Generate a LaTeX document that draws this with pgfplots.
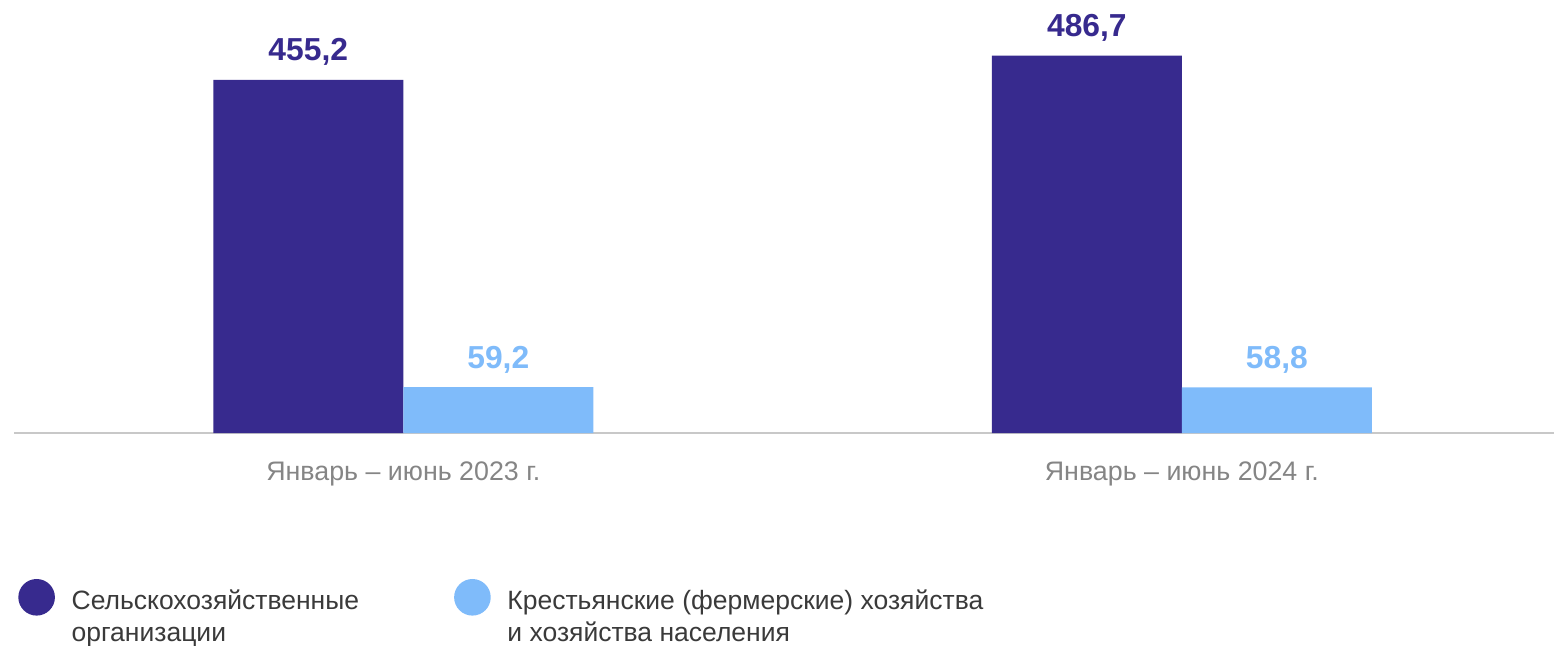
\documentclass[border=0pt]{standalone}
\usepackage{fontspec}
\setmainfont{Liberation Sans}
\usepackage{pgfplots}
\pgfplotsset{compat=1.18}
\definecolor{cDark}{HTML}{372A8E}
\definecolor{cLight}{HTML}{7FBBFA}
\definecolor{cAxis}{HTML}{C8C8C8}
\definecolor{cLab}{HTML}{858585}
\definecolor{cLeg}{HTML}{3A3A3A}

\begin{document}
\begin{tikzpicture}[x=1pt,y=1pt]
\useasboundingbox (0,0) rectangle (1554,645);
\begin{axis}[
  at={(14pt,212pt)}, anchor=south west,
  width=1540pt, height=418.8pt, scale only axis,
  xmin=-0.5, xmax=1.478, ymin=0, ymax=540,
  ybar=0pt, bar width=190pt,
  axis x line=bottom, axis y line=none,
  x axis line style={-, draw=cAxis, line width=1.5pt},
  xtick={0,1},
  xticklabels={Январь – июнь 2023 г., Январь – июнь 2024 г.},
  major tick length=0pt,
  xticklabel style={font=\fontsize{26.8}{30}\selectfont, text=cLab,
    anchor=base, yshift=-47.6pt, inner sep=0pt},
  ytick=\empty,
  clip=false,
  /pgf/number format/use comma,
  /pgf/number format/fixed,
  /pgf/number format/fixed zerofill,
  /pgf/number format/precision=1,
  /pgf/number format/assume math mode=true,
  nodes near coords,
  nodes near coords style={font=\bfseries\fontsize{31.8}{36}\selectfont,
    anchor=base, yshift=19pt, inner sep=0pt},
  legend columns=2,
  legend cell align=left,
  legend style={at={(axis description cs:0.0028,-0.3486)}, anchor=north west,
    draw=none, fill=none, inner sep=0pt, outer sep=0pt,
    column sep=16.7pt,
    /tikz/every even column/.append style={column sep=95pt},
    font=\fontsize{26.5}{31.7}\selectfont, text=cLeg,
    nodes={align=left, inner sep=0pt}},
  legend image code/.code={\fill (18.3pt,19pt) circle (18.3pt);},
]
\addplot[fill=cDark, draw=none,
  every node near coord/.append style={text=cDark}]
  coordinates {(0,455.2) (1,486.7)};
\addlegendentry{Сельскохозяйственные\\организации}
\addplot[fill=cLight, draw=none,
  every node near coord/.append style={text=cLight}]
  coordinates {(0,59.2) (1,58.8)};
\addlegendentry{Крестьянские (фермерские) хозяйства\\и хозяйства населения}
\end{axis}
\end{tikzpicture}
\end{document}
